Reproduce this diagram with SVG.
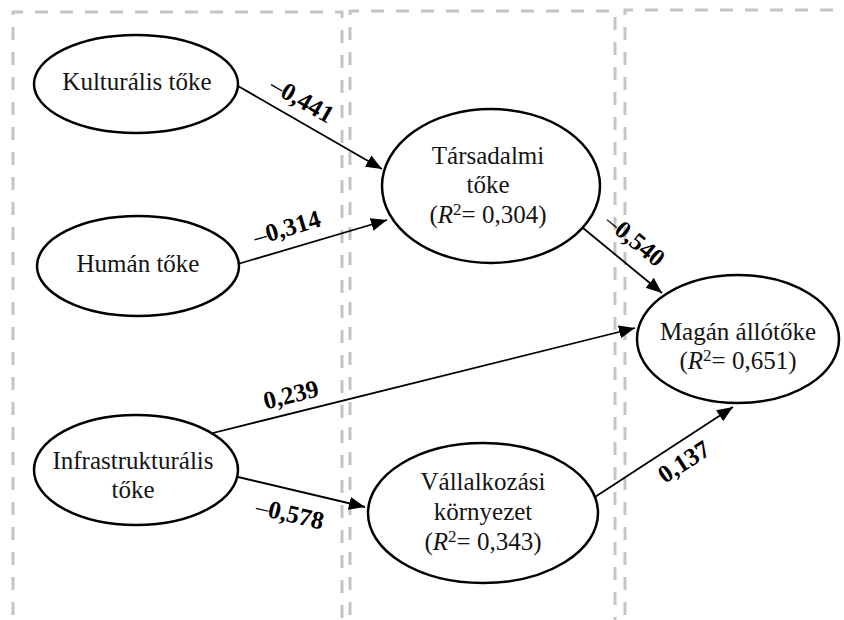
<svg xmlns="http://www.w3.org/2000/svg" width="844" height="620" viewBox="0 0 844 620">
<defs>
<marker id="arr" markerUnits="userSpaceOnUse" markerWidth="18" markerHeight="14" refX="16" refY="6.5" orient="auto">
<path d="M0,0 L16,6.5 L0,13 z" fill="#000"/>
</marker>
<style>
.box{fill:none;stroke:#c4c4c4;stroke-width:3;stroke-dasharray:13 12}
.node{fill:#fff;stroke:#000;stroke-width:2.5}
.t{font-family:"Liberation Serif","Times New Roman",serif;font-size:25px;fill:#141414;text-anchor:middle}
.edge{stroke:#000;stroke-width:1.8;fill:none;marker-end:url(#arr)}
.lbl{font-family:"Liberation Serif","Times New Roman",serif;font-size:25px;font-weight:bold;fill:#000;text-anchor:middle}
.dash{font-weight:normal}
.sup{font-size:17px}
</style>
</defs>
<rect width="844" height="620" fill="#fff"/>
<g id="columns">
<path class="box" d="M13,640 V12 H342 V640"/>
<path class="box" d="M350,640 V11 H615 V640"/>
<path class="box" d="M625,640 V10 H850"/>
</g>
<g id="connectors">
<line class="edge" x1="238" y1="86" x2="382" y2="169"/>
<line class="edge" x1="238" y1="264" x2="387" y2="220"/>
<line class="edge" x1="583" y1="228" x2="662" y2="293"/>
<line class="edge" x1="213" y1="433" x2="635" y2="328"/>
<line class="edge" x1="238" y1="477" x2="365" y2="507"/>
<line class="edge" x1="595" y1="497" x2="733" y2="407"/>
<text class="lbl" transform="translate(302,100) rotate(30)" y="8"><tspan class="dash">–</tspan>0,441</text>
<text class="lbl" transform="translate(287,228) rotate(-16.5)" y="8"><tspan class="dash">–</tspan>0,314</text>
<text class="lbl" transform="translate(635,240) rotate(39.4)" y="8"><tspan class="dash">–</tspan>0,540</text>
<text class="lbl" transform="translate(291,395) rotate(-14)" y="8">0,239</text>
<text class="lbl" transform="translate(290,514) rotate(13.3)" y="8"><tspan class="dash">–</tspan>0,578</text>
<text class="lbl" transform="translate(684,462) rotate(-33)" y="8">0,137</text>
</g>
<g id="kulturalis">
<ellipse class="node" cx="136" cy="84" rx="102" ry="49"/>
<text class="t" x="137" y="90">Kulturális tőke</text>
</g>
<g id="human">
<ellipse class="node" cx="138" cy="266" rx="101" ry="50"/>
<text class="t" x="138" y="272">Humán tőke</text>
</g>
<g id="infra">
<ellipse class="node" cx="136" cy="470" rx="102" ry="55"/>
<text class="t" x="133" y="469">Infrastrukturális</text>
<text class="t" x="133" y="498">tőke</text>
</g>
<g id="tarsadalmi">
<ellipse class="node" cx="491" cy="186" rx="109" ry="77"/>
<text class="t" x="488" y="164">Társadalmi</text>
<text class="t" x="488" y="193">tőke</text>
<text class="t" x="488" y="223">(<tspan font-style="italic">R</tspan><tspan class="sup" dy="-8">2</tspan><tspan dy="8">= 0,304)</tspan></text>
</g>
<g id="vallalkozasi">
<ellipse class="node" cx="483" cy="513" rx="115" ry="70"/>
<text class="t" x="483" y="490">Vállalkozási</text>
<text class="t" x="483" y="520">környezet</text>
<text class="t" x="483" y="550">(<tspan font-style="italic">R</tspan><tspan class="sup" dy="-8">2</tspan><tspan dy="8">= 0,343)</tspan></text>
</g>
<g id="magan">
<ellipse class="node" cx="738" cy="339" rx="101" ry="64"/>
<text class="t" x="738" y="340">Magán állótőke</text>
<text class="t" x="738" y="369">(<tspan font-style="italic">R</tspan><tspan class="sup" dy="-8">2</tspan><tspan dy="8">= 0,651)</tspan></text>
</g>
</svg>
